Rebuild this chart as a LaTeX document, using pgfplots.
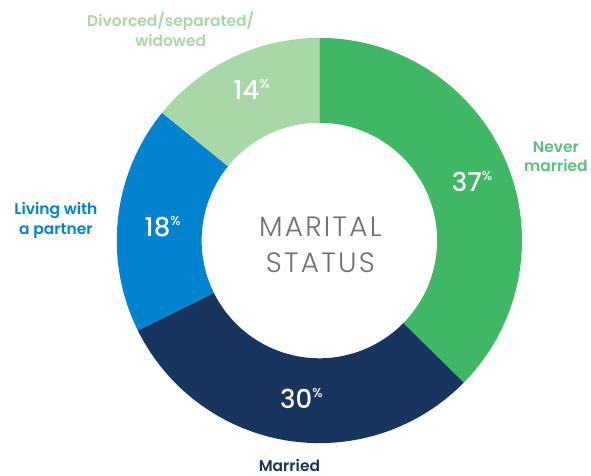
\documentclass[border=0pt]{standalone}
\usepackage{pgfplots}
\pgfplotsset{compat=1.18}
\usepackage{fontspec}
\setmainfont{Poppins}[BoldFont={Poppins SemiBold}]
\newfontfamily\lightfont{Poppins Light}[LetterSpace=8]
\newfontfamily\medfont{Poppins Medium}
\definecolor{cNever}{HTML}{3FB866}
\definecolor{cMarried}{HTML}{17355E}
\definecolor{cLiving}{HTML}{0283CF}
\definecolor{cDiv}{HTML}{A9D8A8}
\definecolor{lNever}{HTML}{5DC07F}
\definecolor{cCenter}{HTML}{707070}
% shares (percent)
\def\vNever{37}\def\vMarried{30}\def\vLiving{18}\def\vDiv{14}
\pgfmathsetmacro{\tot}{\vNever+\vMarried+\vLiving+\vDiv}
\pgfmathsetmacro{\aA}{90}
\pgfmathsetmacro{\aB}{\aA-360*\vNever/\tot}
\pgfmathsetmacro{\aC}{\aB-360*\vMarried/\tot}
\pgfmathsetmacro{\aD}{\aC-360*\vLiving/\tot}
\pgfmathsetmacro{\aE}{\aD-360*\vDiv/\tot}
\newcommand\seg[3]{\fill[#3] (axis cs:320,235) ++(#1:203pt) arc[start angle=#1, end angle=#2, radius=203pt] -- ++(#2+180:85pt) arc[start angle=#2, end angle=#1, radius=118pt] -- cycle;}
\newcommand\pct[1]{#1\raisebox{0.42em}{\fontsize{13}{13}\selectfont\%}}
\begin{document}
\begin{tikzpicture}
\begin{axis}[x=1pt, y=1pt, xmin=0, xmax=591, ymin=0, ymax=476, hide axis, clip=false, scale only axis]
\path (axis cs:0,0) rectangle (axis cs:591,476);
\seg{\aA}{\aB}{cNever}
\seg{\aB}{\aC}{cMarried}
\seg{\aC}{\aD}{cLiving}
\seg{\aD}{\aE}{cDiv}
% labels
\tikzset{lab/.style={anchor=base, font=\bfseries\fontsize{15.5}{18}\selectfont}}
\node[lab, text=cDiv] at (axis cs:171,449) {Divorced/separated/};
\node[lab, text=cDiv] at (axis cs:171,429) {widowed};
\node[lab, text=cLiving] at (axis cs:56,261) {Living with};
\node[lab, text=cLiving] at (axis cs:56,241) {a partner};
\node[lab, text=lNever] at (axis cs:557,323) {Never};
\node[lab, text=lNever] at (axis cs:557,304) {married};
\node[lab, text=cMarried] at (axis cs:290,4) {Married};
% percentages
\tikzset{num/.style={anchor=base, text=white, font=\medfont\fontsize{26}{26}\selectfont}}
\node[num] at (axis cs:473,284) {\pct{37}};
\node[num] at (axis cs:302,67) {\pct{30}};
\node[num] at (axis cs:163,239) {\pct{18}};
\node[num] at (axis cs:252,376) {\pct{14}};
% centre
\node[anchor=base, text=cCenter, font=\lightfont\fontsize{28}{28}\selectfont] at (axis cs:321,239) {MARITAL};
\node[anchor=base, text=cCenter, font=\lightfont\fontsize{28}{28}\selectfont] at (axis cs:321,203) {STATUS};
\end{axis}
\end{tikzpicture}
\end{document}
